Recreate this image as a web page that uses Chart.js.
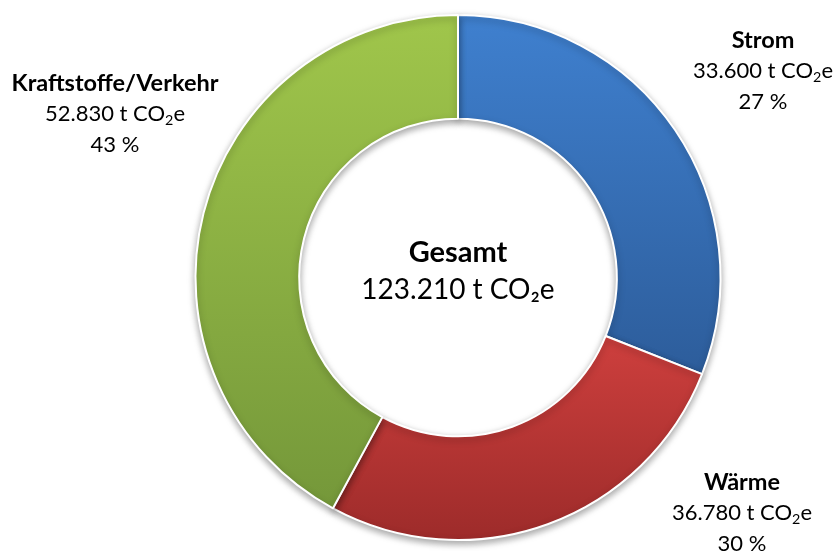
<!DOCTYPE html>
<html>
<head>
<meta charset="utf-8">
<script src="https://cdn.jsdelivr.net/npm/chart.js@4"></script>
<style>
  html, body { margin: 0; padding: 0; background: #ffffff; }
  #wrap { width: 837px; height: 551px; position: relative; }
</style>
</head>
<body>
<div id="wrap"><canvas id="c" width="837" height="551"></canvas></div>
<script>
// ---- data ----
const categories = ["Strom", "Wärme", "Kraftstoffe/Verkehr"];
// slice sizes as drawn in the picture (share of the ring, %)
const sliceShares = [31.0, 26.9, 42.1];
// values printed in the labels (t CO2e) and printed percentages
const labelValues = [33600, 36780, 52830];
const labelPercents = [27, 30, 43];
const totalValue = 123210;
const unit = "t CO";
const centerTitle = "Gesamt";

// ---- styles / layout (not data) ----
const gradStops = [
  [[0.0, "#3f80cf"], [0.68, "#2d5d9b"]],
  [[0.60, "#cf403e"], [1.0, "#9d2b2a"]],
  [[0.0, "#a0c64b"], [0.93, "#75983a"]]
];
const labelPos = [
  {x: 763, y: 40},
  {x: 742, y: 482},
  {x: 115, y: 83}
];
const FONT = "Lato, 'Noto Sans', sans-serif";

function fmt(n) {
  return String(n).replace(/\B(?=(\d{3})+(?!\d))/g, ".");
}

function drawRich(ctx, parts, cx, cy, size, bold) {
  const w = parts.map(p => {
    ctx.font = (bold ? "bold " : "") + (p.sub ? size * 0.65 : size) + "px " + FONT;
    return ctx.measureText(p.t).width;
  });
  const tw = w.reduce((a, b) => a + b, 0);
  let x = cx - tw / 2;
  parts.forEach((p, i) => {
    ctx.font = (bold ? "bold " : "") + (p.sub ? size * 0.65 : size) + "px " + FONT;
    ctx.fillText(p.t, x, cy + (p.sub ? size * 0.28 : 0));
    x += w[i];
  });
}

const shadowPlugin = {
  id: "shadow",
  beforeDatasetsDraw(chart) {
    const ctx = chart.ctx;
    ctx.save();
    ctx.shadowColor = "rgba(0,0,0,0.35)";
    ctx.shadowBlur = 7;
    ctx.shadowOffsetY = 3;
  },
  afterDatasetsDraw(chart) {
    chart.ctx.restore();
  }
};

const labelPlugin = {
  id: "labels",
  afterDraw(chart) {
    const ctx = chart.ctx;
    ctx.save();
    ctx.fillStyle = "#000";
    ctx.textBaseline = "middle";
    ctx.textAlign = "left";
    categories.forEach((c, i) => {
      const p = labelPos[i];
      drawRich(ctx, [{t: c}], p.x, p.y, 23.5, true);
      drawRich(ctx, [{t: fmt(labelValues[i]) + " " + unit}, {t: "2", sub: true}, {t: "e"}], p.x, p.y + 31, 22, false);
      drawRich(ctx, [{t: labelPercents[i] + " %"}], p.x, p.y + 62, 22, false);
    });
    const m = chart.getDatasetMeta(0).data[0];
    const cx = m.x, cy = m.y;
    drawRich(ctx, [{t: centerTitle}], cx, cy - 25, 29, true);
    drawRich(ctx, [{t: fmt(totalValue) + " t CO\u2082e"}], cx, cy + 12, 28, false);
    ctx.restore();
  }
};

new Chart(document.getElementById("c"), {
  type: "doughnut",
  data: {
    labels: categories,
    datasets: [{
      data: sliceShares,
      backgroundColor: (context) => {
        const chart = context.chart;
        const area = chart.chartArea;
        const i = context.dataIndex;
        if (!area) return gradStops[i][0][1];
        const g = chart.ctx.createLinearGradient(0, area.top, 0, area.bottom);
        gradStops[i].forEach(s => g.addColorStop(s[0], s[1]));
        return g;
      },
      borderColor: "#ffffff",
      borderWidth: 2,
      hoverOffset: 0
    }]
  },
  options: {
    responsive: false,
    animation: false,
    cutout: "60.5%",
    layout: { padding: { top: 14, bottom: 10, left: 79, right: 0 } },
    plugins: {
      legend: { display: false },
      tooltip: { enabled: false }
    }
  },
  plugins: [shadowPlugin, labelPlugin]
});
</script>
</body>
</html>
